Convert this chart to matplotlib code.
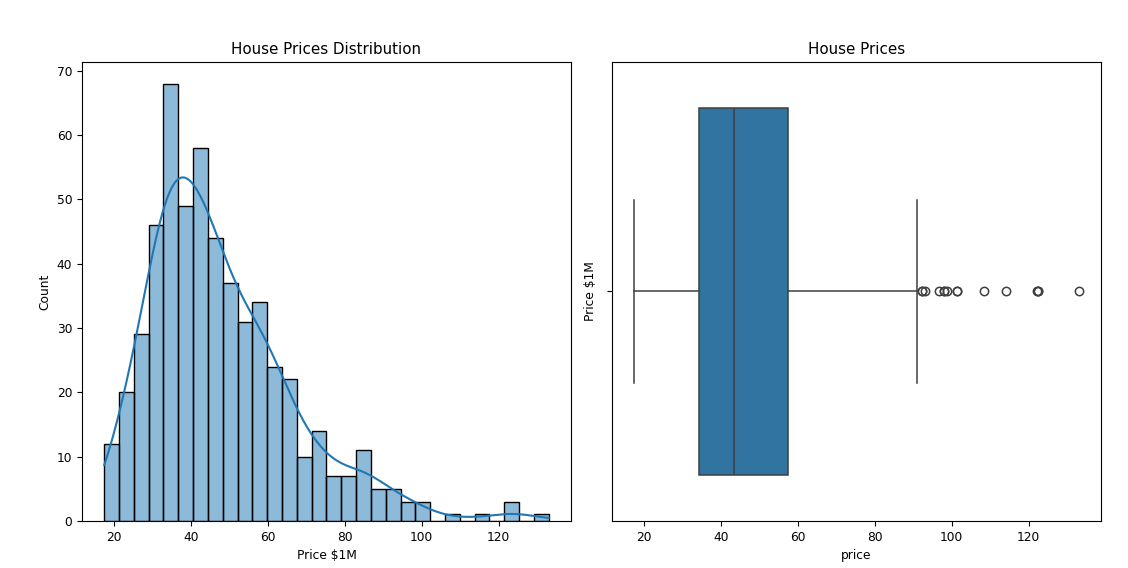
import numpy as np
import matplotlib
matplotlib.use("Agg")
import matplotlib.pyplot as plt
import seaborn as sns

# histogram (counts per bin, price in units of $100k)
bin_lo, bin_hi, n_bins = 17.5, 133.0, 30
counts = [12, 20, 29, 46, 68, 49, 58, 44, 37, 31, 34, 24, 22, 10, 14,
          7, 7, 11, 5, 5, 3, 3, 0, 1, 0, 1, 0, 3, 0, 1]

# boxplot stats
q1, med, q3 = 34.3, 43.4, 57.4
whis_lo, whis_hi = 17.5, 91.0
outliers = [92.4, 92.4, 93.1, 96.8, 98.0, 98.0, 98.7, 101.5, 101.5,
            108.5, 114.1, 122.15, 122.5, 122.5, 133.0]

plt.rcParams['font.size'] = 8.8

edges = np.linspace(bin_lo, bin_hi, n_bins + 1)
centers = (edges[:-1] + edges[1:]) / 2
values = np.repeat(centers, counts)

fig, (ax1, ax2) = plt.subplots(1, 2, figsize=(11.28, 5.68), dpi=100)
fig.subplots_adjust(left=0.0727, right=0.976, top=0.891, bottom=0.083, wspace=0.084)

# histogram + kde, kde stretched out to the edges of the price range
sns.histplot(x=values, bins=edges, kde=True, ax=ax1,
             kde_kws=dict(cut=1, clip=(bin_lo, bin_hi)))
ax1.set_title('House Prices Distribution', fontsize=10.9)
ax1.set_xlabel('Price \\$1M')
ax1.set_ylabel('Count')

box_color = '#3274a1'
line_color = '#3f3f3f'
stats = [dict(med=med, q1=q1, q3=q3, whislo=whis_lo, whishi=whis_hi, fliers=outliers)]
ax2.bxp(stats, positions=[0], widths=0.8, vert=False, patch_artist=True,
        capwidths=0.4,
        boxprops=dict(facecolor=box_color, edgecolor=line_color, linewidth=1.1),
        medianprops=dict(color=line_color, linewidth=1.1),
        whiskerprops=dict(color=line_color, linewidth=1.1),
        capprops=dict(color=line_color, linewidth=1.1),
        flierprops=dict(marker='o', markerfacecolor='none', markeredgecolor=line_color,
                        markersize=6, markeredgewidth=1.1))
ax2.set_ylim(0.5, -0.5)
ax2.set_yticks([0])
ax2.set_yticklabels([''])
ax2.set_xticks([20, 40, 60, 80, 100, 120])
ax2.set_title('House Prices', fontsize=10.9)
ax2.set_xlabel('price')
ax2.set_ylabel('Price \\$1M')

plt.savefig('out.png', dpi=100)
